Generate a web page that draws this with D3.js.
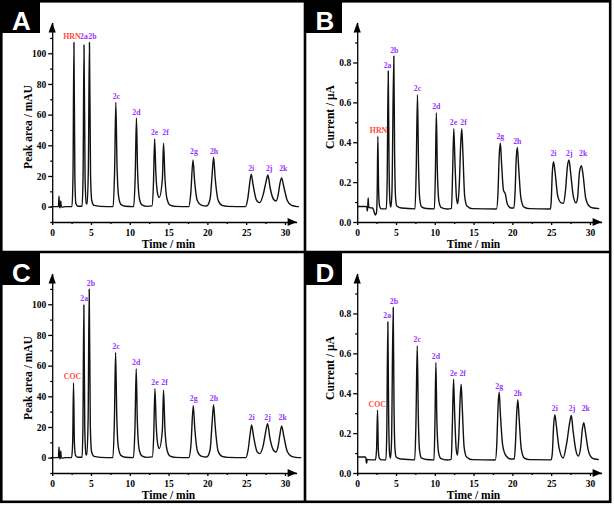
<!DOCTYPE html>
<html><head><meta charset="utf-8">
<script src="https://cdn.jsdelivr.net/npm/d3@7/dist/d3.min.js"></script>
<style>body{margin:0;background:#fff}svg{display:block}</style>
</head><body>
<svg id="c" width="614" height="505"></svg>
<script>
// ---------------- data ----------------
const timeTicks = [0, 5, 10, 15, 20, 25, 30];
const timeMinorTicks = [2.5, 7.5, 12.5, 17.5, 22.5, 27.5];
const areaTicks = [0, 20, 40, 60, 80, 100];
const areaMinorTicks = [-10, 10, 30, 50, 70, 90, 110];
const currentTicks = [0, 0.2, 0.4, 0.6, 0.8];
const currentMinorTicks = [0.1, 0.3, 0.5, 0.7, 0.9];

const peakNamesA = ["HRN","2a","2b","2c","2d","2e","2f","2g","2h","2i","2j","2k"];
const peakTimesA = [2.8, 4.1, 4.8, 8.2, 10.86, 13.2, 14.35, 18.15, 20.8, 25.65, 27.8, 29.57];
const peakHeightsA = [107, 105.4, 107, 68, 57.8, 44.2, 41.3, 30.5, 32.3, 21.2, 20.6, 18.8];
const traceA = [[-0.2,0],[0.8,0],[0.88,6.9],[0.93,0.5],[1.0,-0.8],[1.06,0.5],[1.1,3.7],[1.16,0.3],[1.3,-0.3],[1.7,0],
 [2.55,0],[2.68,20],[2.92,20],[3.05,2],[3.3,0.3],[3.85,0.3],[3.98,20],[4.24,18],[4.4,2],[4.5,1.7],[4.66,25],[4.94,22],
 [5.1,4],[5.4,0.8],[6.2,0.2],[7.85,0],[8.05,25],[8.35,28],[8.55,7],[8.85,1.5],[9.4,0.3],[10.5,0],[10.7,20],[11.0,24],
 [11.25,5],[11.6,1],[12.2,0.2],[12.85,0.5],[13.05,15],[13.36,22],[13.6,8],[13.8,6],[14.2,18],[14.52,20],[14.8,5],
 [15.2,1],[15.9,0.2],[17.6,0],[17.85,8],[18.35,17],[18.7,4],[19.2,1],[19.9,0.4],[20.35,5],[20.6,20],[21.0,19],
 [21.4,4],[21.9,0.8],[22.6,0.2],[24.9,0],[25.2,5],[25.45,15],[25.9,14],[26.35,4],[26.75,2.6],[27.2,8],[27.55,16],
 [28.1,12],[28.5,5],[28.85,3.7],[29.1,7],[29.35,15],[29.85,13],[30.3,4],[30.8,1],[31.4,0.2],[31.8,0]];

const peakNamesB = ["HRN","2a","2b","2c","2d","2e","2f","2g","2h","2i","2j","2k"];
const peakTimesB = [2.66, 4.0, 4.72, 7.77, 10.2, 12.45, 13.48, 18.45, 20.64, 25.3, 27.3, 28.9];
const peakHeightsB = [0.43, 0.757, 0.832, 0.638, 0.548, 0.468, 0.468, 0.397, 0.374, 0.302, 0.311, 0.282];
const traceB = [[0,0.078],[1.15,0.078],[1.24,0.075],[1.29,0.055],[1.35,0.07],[1.42,0.12],[1.48,0.076],[1.6,0.072],
 [2.0,0.07],[2.15,0.055],[2.33,0.035],[2.48,0.045],[2.58,0.15],[2.76,0.16],[2.88,0.08],[3.1,0.066],[3.75,0.066],
 [3.86,0.2],[4.1,0.3],[4.22,0.1],[4.34,0.075],[4.48,0.15],[4.82,0.35],[4.95,0.12],[5.1,0.08],[5.7,0.07],[7.45,0.066],
 [7.6,0.25],[7.9,0.3],[8.05,0.12],[8.3,0.076],[8.9,0.068],[9.95,0.066],[10.08,0.25],[10.33,0.26],[10.55,0.1],
 [10.85,0.072],[11.6,0.065],[12.15,0.068],[12.3,0.25],[12.6,0.3],[12.8,0.12],[12.95,0.092],[13.15,0.18],[13.35,0.4],
 [13.62,0.35],[13.85,0.13],[14.15,0.08],[14.8,0.067],[17.95,0.065],[18.15,0.15],[18.3,0.33],[18.6,0.3],[18.85,0.16],
 [19.1,0.14],[19.35,0.09],[19.8,0.07],[20.2,0.07],[20.35,0.15],[20.5,0.32],[20.8,0.28],[21.1,0.12],[21.5,0.075],
 [22.2,0.067],[24.9,0.065],[25.0,0.1],[25.15,0.25],[25.5,0.25],[25.85,0.13],[26.3,0.096],[26.6,0.094],[26.85,0.16],
 [27.1,0.28],[27.5,0.25],[27.85,0.13],[28.2,0.096],[28.4,0.12],[28.65,0.25],[29.1,0.24],[29.45,0.12],[29.9,0.08],
 [30.4,0.07],[31.2,0.067]];

const peakNamesC = ["COC","2a","2b","2c","2d","2e","2f","2g","2h","2i","2j","2k"];
const peakTimesC = [2.75, 4.08, 4.77, 8.17, 10.83, 13.24, 14.35, 18.18, 20.8, 25.7, 27.76, 29.57];
const peakHeightsC = [48.8, 99.6, 109.8, 68.6, 58, 45, 44, 33.8, 34.6, 21.4, 22.2, 20.7];
const traceC = [[-0.2,0],[0.8,0],[0.88,7],[0.93,0.5],[1.0,-0.8],[1.06,0.5],[1.1,4.4],[1.16,0.3],[1.3,-0.3],[1.7,0],
 [2.5,0],[2.64,10],[2.86,10],[3.0,1.5],[3.3,0.3],[3.85,0.3],[3.96,20],[4.2,18],[4.36,2],[4.46,1.7],[4.63,25],[4.91,22],
 [5.07,4],[5.4,0.8],[6.2,0.2],[7.82,0],[8.02,25],[8.32,28],[8.52,7],[8.85,1.5],[9.4,0.3],[10.47,0],[10.67,20],
 [10.97,24],[11.22,5],[11.6,1],[12.2,0.2],[12.9,0.5],[13.09,15],[13.4,22],[13.63,8],[13.8,6],[14.2,18],[14.52,20],
 [14.8,5],[15.2,1],[15.9,0.2],[17.6,0],[17.88,8],[18.38,19],[18.73,4],[19.2,1],[19.9,0.4],[20.35,5],[20.6,22],
 [21.0,21],[21.4,4],[21.9,0.8],[22.6,0.2],[24.95,0],[25.25,5],[25.5,15],[25.95,14],[26.4,4],[26.75,2.6],[27.2,8],
 [27.52,17],[28.05,13],[28.5,5],[28.85,3.7],[29.1,7],[29.35,15],[29.85,14],[30.3,4],[30.8,1],[31.4,0.2],[32.1,0]];

const peakNamesD = ["COC","2a","2b","2c","2d","2e","2f","2g","2h","2i","2j","2k"];
const peakTimesD = [2.62, 3.95, 4.64, 7.74, 10.14, 12.42, 13.4, 18.3, 20.7, 25.48, 27.6, 29.2];
const peakHeightsD = [0.315, 0.758, 0.83, 0.638, 0.555, 0.47, 0.445, 0.405, 0.368, 0.292, 0.288, 0.252];
const traceD = [[0,0.08],[1.05,0.08],[1.12,0.075],[1.18,0.05],[1.24,0.05],[1.28,0.068],[1.4,0.067],[2.35,0.066],
 [2.5,0.12],[2.72,0.12],[2.85,0.075],[3.1,0.066],[3.7,0.066],[3.81,0.2],[4.05,0.3],[4.17,0.1],[4.29,0.075],
 [4.42,0.15],[4.74,0.35],[4.87,0.12],[5.02,0.08],[5.6,0.07],[7.42,0.066],[7.57,0.25],[7.87,0.3],[8.02,0.12],
 [8.27,0.076],[8.9,0.068],[9.9,0.066],[10.02,0.25],[10.27,0.26],[10.5,0.1],[10.8,0.072],[11.6,0.065],[12.12,0.068],
 [12.27,0.25],[12.56,0.3],[12.76,0.12],[12.92,0.09],[13.08,0.17],[13.28,0.38],[13.54,0.33],[13.78,0.13],[14.1,0.08],
 [14.8,0.067],[17.8,0.065],[18.0,0.15],[18.15,0.33],[18.45,0.3],[18.75,0.14],[19.2,0.085],[19.8,0.07],[20.25,0.07],
 [20.4,0.15],[20.56,0.3],[20.86,0.28],[21.15,0.12],[21.55,0.075],[22.2,0.067],[25.0,0.066],[25.15,0.1],[25.32,0.24],
 [25.66,0.24],[26.0,0.13],[26.55,0.075],[27.0,0.15],[27.42,0.26],[27.8,0.22],[28.15,0.12],[28.5,0.085],[28.8,0.13],
 [29.02,0.22],[29.4,0.21],[29.75,0.12],[30.2,0.078],[30.6,0.07],[31.15,0.067]];

// label groups (labels sharing a line) and small horizontal nudges
const labelGroupsA = [0,0,0,1,2,3,3,4,4,5,5,5];
const labelGroupsB = [0,1,2,3,4,5,5,6,7,8,8,8];
const labelGroupsC = [0,1,2,3,4,5,5,6,6,7,7,7];
const labelGroupsD = [0,1,2,3,4,5,5,6,7,8,8,8];
const labelNudgeA = [-2,0,3,0.5,0,0,2,1,0.5,0,1.3,1.7];
const labelNudgeB = [0.7,-0.7,0.5,0,0,-0.3,1.7,0,0,0,0.3,1.7];
const labelNudgeC = [-1,0.3,1.7,0.5,0,0,1,0.5,0.3,0,0,1];
const labelNudgeD = [-0.3,-0.7,0.7,0,0,0,1.5,0,0,0,0.7,2];

// ---------------- drawing ----------------
const svg = d3.select("#c");
svg.append("rect").attr("width", 614).attr("height", 505).attr("fill", "#fff");

const serif = "'Liberation Serif','Times New Roman',serif";
const purple = "#9933ff", red = "#ff4a3a";

function drawPanel(p) {
  const g = svg.append("g").attr("transform", `translate(${p.origin[0]},${p.origin[1]})`);
  const x = d3.scaleLinear().domain([0, 31.5]).range([52.2, 296.6]);
  const y = d3.scaleLinear().domain(p.yDomain).range([222, 22.6]);

  // trace
  const pts = p.trace.concat(p.times.map((t, i) => [t, p.heights[i]])).sort((a, b) => a[0] - b[0]);
  g.append("path").datum(pts)
    .attr("d", d3.line().x(d => x(d[0])).y(d => y(d[1])).curve(d3.curveMonotoneX))
    .attr("fill", "none").attr("stroke", "#111").attr("stroke-width", 1.4).attr("stroke-linejoin", "round");

  // axes
  const xa = g.append("g").attr("transform", `translate(0,222)`)
    .call(d3.axisBottom(x).tickValues(timeTicks).tickSize(3).tickSizeOuter(0).tickPadding(4));
  const xm = g.append("g").attr("transform", `translate(0,222)`)
    .call(d3.axisBottom(x).tickValues(timeMinorTicks).tickSize(2).tickFormat(""));
  xm.select(".domain").remove();
  const ya = g.append("g").attr("transform", `translate(52.2,0)`)
    .call(d3.axisLeft(y).tickValues(p.yTicks).tickSize(4).tickSizeOuter(0).tickPadding(2)
      .tickFormat(p.tickFormat));
  const ym = g.append("g").attr("transform", `translate(52.2,0)`)
    .call(d3.axisLeft(y).tickValues(p.yMinor).tickSize(2).tickFormat(""));
  ym.select(".domain").remove();
  [xa, xm, ya, ym].forEach(a => {
    a.selectAll("path,line").attr("stroke", "#000").attr("stroke-width", 1.3);
    a.selectAll("text").attr("font-family", serif).attr("font-weight", "bold")
      .attr("font-size", 9.5).attr("fill", "#000");
  });

  // arrow heads
  const xt = x.range()[1], yt = y.range()[1];
  g.append("path").attr("d", `M${xt},222 L${xt - 9},218 L${xt - 9},226 Z`).attr("fill", "#000");
  g.append("path").attr("d", `M52.2,${yt} L48.6,${yt + 10} L55.8,${yt + 10} Z`).attr("fill", "#000");

  // axis titles
  g.append("text").attr("x", 168.5).attr("y", 248).attr("text-anchor", "middle")
    .attr("font-family", serif).attr("font-weight", "bold").attr("font-size", 11.5).text("Time / min");
  g.append("text").attr("transform", `translate(${p.yTitleX},${p.yTitleY}) rotate(-90)`)
    .attr("text-anchor", "middle").attr("font-family", serif).attr("font-weight", "bold")
    .attr("font-size", 11.5).text(p.yTitle);

  // peak labels
  const groupY = {};
  p.times.forEach((t, i) => {
    const gy = y(p.heights[i]);
    const k = p.groups[i];
    groupY[k] = groupY[k] === undefined ? gy : Math.min(groupY[k], gy);
  });
  g.selectAll("text.pk").data(p.names).join("text").attr("class", "pk")
    .attr("x", (d, i) => x(p.times[i]) + p.nudge[i])
    .attr("y", (d, i) => groupY[p.groups[i]] - 3.5)
    .attr("text-anchor", "middle").attr("font-family", serif).attr("font-weight", "bold")
    .attr("font-size", 7.8).attr("fill", (d, i) => i === 0 ? red : purple).text(d => d);
}

const areaFmt = d3.format("d");
const curFmt = d3.format(".1f");

drawPanel({origin: [0, 0], yDomain: [-10, 120], yTicks: areaTicks, yMinor: areaMinorTicks, tickFormat: areaFmt,
  trace: traceA, times: peakTimesA, heights: peakHeightsA, names: peakNamesA, groups: labelGroupsA, nudge: labelNudgeA,
  yTitle: "Peak area / mAU", yTitleX: 32, yTitleY: 127});
drawPanel({origin: [305, 0], yDomain: [0, 1.0], yTicks: currentTicks, yMinor: currentMinorTicks, tickFormat: curFmt,
  trace: traceB, times: peakTimesB, heights: peakHeightsB, names: peakNamesB, groups: labelGroupsB, nudge: labelNudgeB,
  yTitle: "Current / \u03bcA", yTitleX: 29, yTitleY: 117});
drawPanel({origin: [0, 251], yDomain: [-10, 120], yTicks: areaTicks, yMinor: areaMinorTicks, tickFormat: areaFmt,
  trace: traceC, times: peakTimesC, heights: peakHeightsC, names: peakNamesC, groups: labelGroupsC, nudge: labelNudgeC,
  yTitle: "Peak area / mAU", yTitleX: 32, yTitleY: 127});
drawPanel({origin: [305, 251], yDomain: [0, 1.0], yTicks: currentTicks, yMinor: currentMinorTicks, tickFormat: curFmt,
  trace: traceD, times: peakTimesD, heights: peakHeightsD, names: peakNamesD, groups: labelGroupsD, nudge: labelNudgeD,
  yTitle: "Current / \u03bcA", yTitleX: 29, yTitleY: 117});

// frames
const frame = svg.append("g").attr("stroke", "#000").attr("stroke-width", 2.6).attr("fill", "none");
frame.append("rect").attr("x", 1.3).attr("y", 1.3).attr("width", 608.9).attr("height", 500.5);
frame.append("line").attr("x1", 305).attr("x2", 305).attr("y1", 0).attr("y2", 503);
frame.append("line").attr("x1", 0).attr("x2", 611).attr("y1", 252).attr("y2", 252);

// panel letters
const letters = [["A", 0, 0, 40], ["B", 305, 0, 37], ["C", 0, 252, 40], ["D", 305, 252, 37]];
letters.forEach(([L, bx, by, bw]) => {
  svg.append("rect").attr("x", bx).attr("y", by).attr("width", bw).attr("height", 33).attr("fill", "#000");
  svg.append("text").attr("x", bx + bw / 2 + 1.5).attr("y", by + 29.5).attr("text-anchor", "middle")
    .attr("font-family", "'Liberation Sans',Arial,sans-serif").attr("font-weight", "bold")
    .attr("font-size", 26).attr("fill", "#fff").text(L);
});
</script>
</body></html>
